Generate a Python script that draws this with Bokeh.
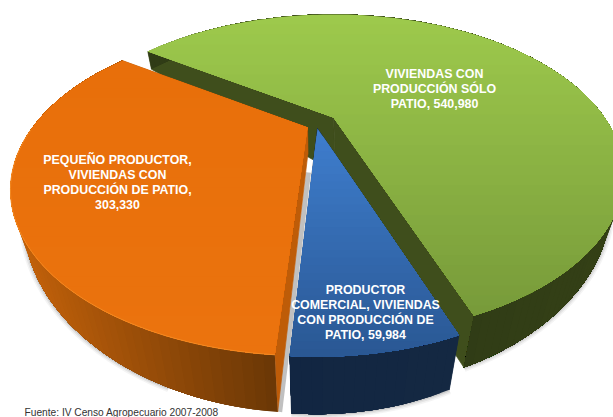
import math
from bokeh.plotting import figure
from bokeh.models import Range1d
from bokeh.core.properties import value
from bokeh.embed import file_html
from bokeh.resources import INLINE

categories = ["VIVIENDAS CON PRODUCCIÓN SÓLO PATIO",
              "PRODUCTOR COMERCIAL, VIVIENDAS CON PRODUCCIÓN DE PATIO",
              "PEQUEÑO PRODUCTOR, VIVIENDAS CON PRODUCCIÓN DE PATIO"]
values = [540980, 59984, 303330]
label_lines = [["VIVIENDAS CON", "PRODUCCIÓN SÓLO", "PATIO, {}"],
               ["PRODUCTOR", "COMERCIAL, VIVIENDAS", "CON PRODUCCIÓN DE", "PATIO, {}"],
               ["PEQUEÑO PRODUCTOR,", "VIVIENDAS CON", "PRODUCCIÓN DE PATIO,", "{}"]]
source_note = "Fuente: IV Censo Agropecuario 2007-2008"

# projection of the 3D pie, per slice: perspective, x radius, y radius, angle offset
START = -55.5
PERSP = [(0.358, 271.0, 140.0, 0.0), (0.378, 265.0, 142.0, 0.0), (0.378, 275.0, 142.0, 0.5)]
APEX = [(333.0, 117.0), (317.0, 128.0), (307.0, 127.0)]
APEX_DEPTH = [55.0, 26.0, 27.0]
LABEL_POS = [(434, 73), (365, 289), (117, 159)]
TOP = [((157, 201, 76), (120, 155, 58)), ((62, 125, 205), (42, 88, 148)), ((232, 111, 10), (235, 115, 14))]
TOP_Y = [(14, 315), (128, 356), (58, 355)]
FACE = [(63, 78, 28), (20, 40, 68), (190, 92, 8)]


def hexc(c):
    return "#%02x%02x%02x" % tuple(int(round(v)) for v in c)


def mix(a, b, t):
    t = max(0.0, min(1.0, t))
    return tuple(a[i] + (b[i] - a[i]) * t for i in range(3))


def proj(deg, i):
    k, rx, ry, off = PERSP[i]
    t = math.radians(deg + off)
    u, v = math.sin(t), math.cos(t)
    w = 1 + k * v
    return APEX[i][0] + rx * u / w, APEX[i][1] - ry * v / w


def down(pt):
    x, y = pt
    dy = 0.13 * (y + 85)
    return x + (315 - x) * dy * 0.00123, y + dy


def clip_below(poly, yc):
    out = []
    n = len(poly)
    for i in range(n):
        a, b = poly[i], poly[(i + 1) % n]
        ia, ib = a[1] >= yc, b[1] >= yc
        if ia:
            out.append(a)
        if ia != ib:
            s = (yc - a[1]) / (b[1] - a[1])
            out.append((a[0] + (b[0] - a[0]) * s, yc))
    return out


p = figure(width=613, height=417, output_backend="svg", toolbar_location=None,
           x_range=Range1d(0, 613), y_range=Range1d(417, 0), min_border=0,
           background_fill_color="white", border_fill_color="white", outline_line_color=None)
p.axis.visible = False
p.grid.visible = False


def fill(polys, colors, lw=0.7):
    p.patches([[q[0] for q in P] for P in polys], [[q[1] for q in P] for P in polys],
              fill_color=colors, line_color=colors, line_width=lw)


total = sum(values)
edges = [START]
for val in values:
    edges.append(edges[-1] + val / total * 360)

slices = []
for i in range(3):
    a0, a1 = edges[i], edges[i + 1]
    n = int((a1 - a0) / 1.5) + 2
    slices.append([a0 + (a1 - a0) * j / (n - 1) for j in range(n)])

# soft shadow under the outer walls
for i, rng in ((2, (200, 290)), (1, (edges[1], edges[2])), (0, (70, edges[1]))):
    rim = [down(proj(rng[0] + (rng[1] - rng[0]) * j / 60, i)) for j in range(61)]
    for lw, al in ((9, 0.06), (6, 0.09), (3, 0.14)):
        p.line([q[0] for q in rim], [q[1] for q in rim], line_color="#404040", line_width=lw, line_alpha=al)


def draw(i):
    ap = APEX[i]
    ang = slices[i]
    rim = [proj(a, i) for a in ang]
    low = [down(q) for q in rim]
    ap_low = down(ap)
    ap_low = (ap_low[0] + (3 if i == 0 else 0), ap[1] + APEX_DEPTH[i])
    # flat cut faces
    f0 = [ap, rim[0], low[0], ap_low]
    f1 = [ap, rim[-1], low[-1], ap_low]
    fill([f0, f1], [hexc(FACE[i])] * 2)
    # outer wall, painted over itself so no seams show
    walls, cols = [], []
    m = len(rim)
    for j in range(m - 1):
        walls.append(rim[j:] + low[j:][::-1])
        xm = rim[j][0]
        if i == 2:
            cols.append(hexc(mix((108, 56, 6), (192, 96, 10), (275 - xm) / 250)))
        elif i == 1:
            cols.append(hexc(mix((18, 38, 66), (20, 40, 66), (xm - 290) / 170)))
        else:
            cols.append(hexc(mix((48, 60, 22), (52, 64, 22), (xm - 470) / 140)))
    p.patches([[q[0] for q in P] for P in walls], [[q[1] for q in P] for P in walls],
              fill_color=cols, line_color=None)
    # top surface, graded in bands from upper to lower
    poly = [ap] + rim
    y0, y1 = TOP_Y[i]
    bands, bcols = [poly], [hexc(TOP[i][0])]
    for b in range(1, 30):
        yc = y0 + (y1 - y0) * b / 30
        c = clip_below(poly, yc)
        if len(c) >= 3:
            bands.append(c)
            bcols.append(hexc(mix(TOP[i][0], TOP[i][1], b / 29)))
    p.patches([[q[0] for q in P] for P in bands], [[q[1] for q in P] for P in bands],
              fill_color=bcols, line_color=None)
    return rim


draw(0)
# grey shade beside the orange cut face
orim = proj(edges[2], 2)
ol = down(orim)
p.line([APEX[2][0] + 1, ol[0] + 2], [APEX[2][1] + 45, ol[1]], line_color="#b0b0b0", line_width=5, line_alpha=0.8)
draw(1)
rim2 = draw(2)
# lighter orange lip on the front rim
lip = [proj(a, 2) for a in slices[2] if a < edges[2] + 85]
p.line([q[0] for q in lip], [q[1] for q in lip], line_color="#f28a24", line_width=1)

for lines, val, (x, y) in zip(label_lines, values, LABEL_POS):
    for k, line in enumerate(lines):
        p.text([x], [y + k * 15], text=[line.format(f"{val:,}")], text_color="white",
               text_font=value("Liberation Sans"), text_font_style="bold", text_font_size="12.4px",
               text_align="center", text_baseline="middle")

p.text([24], [411.5], text=[source_note], text_color="#333333", text_font=value("Liberation Sans"),
       text_font_size="10.2px", text_align="left", text_baseline="middle")

open("out.html", "w").write(file_html(p, INLINE))
